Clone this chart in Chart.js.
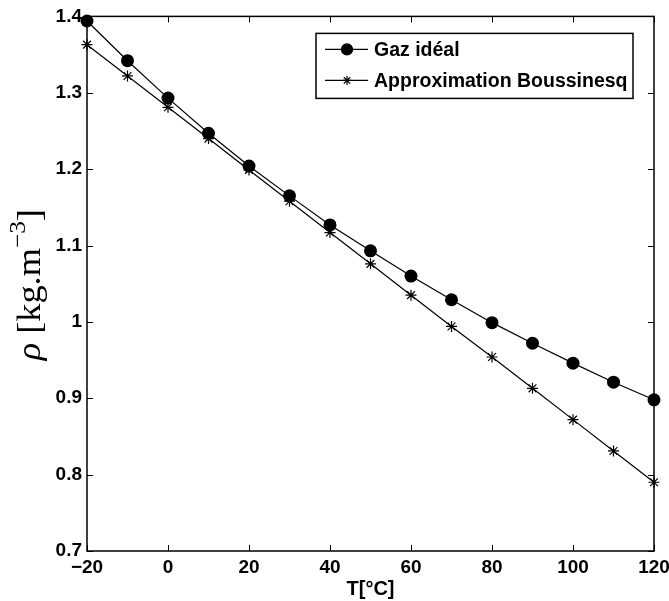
<!DOCTYPE html>
<html>
<head>
<meta charset="utf-8">
<script src="https://cdn.jsdelivr.net/npm/chart.js@4/dist/chart.umd.min.js"></script>
<style>
  html, body { margin: 0; padding: 0; background: #fff; }
  canvas { display: block; }
</style>
</head>
<body>
<canvas id="rhoChart" width="669" height="601"></canvas>
<script>
// temperatures [°C]
const temperatures = [-20, -10, 0, 10, 20, 30, 40, 50, 60, 70, 80, 90, 100, 110, 120];
// masse volumique, gaz idéal
const rhoIdeal = [1.394, 1.342, 1.293, 1.247, 1.204, 1.165, 1.127, 1.093, 1.060, 1.029, 0.999, 0.972, 0.946, 0.921, 0.898];
// masse volumique, approximation de Boussinesq
const rhoBoussinesq = [1.363, 1.322, 1.281, 1.240, 1.199, 1.158, 1.117, 1.076, 1.035, 0.994, 0.954, 0.913, 0.872, 0.831, 0.790];
const seriesLabels = ['Gaz idéal', 'Approximation Boussinesq'];
const xTicks = [-20, 0, 20, 40, 60, 80, 100, 120];
const yTicks = [0.7, 0.8, 0.9, 1.0, 1.1, 1.2, 1.3, 1.4];
const xTitle = 'T[°C]';

const tickFont = { family: '"Liberation Sans", Arial, sans-serif', size: 19, weight: 'bold' };

// cadre, graduations intérieures, légende et titres des axes
const framePlugin = {
    id: 'frame',
    afterDraw(chart) {
        const ctx = chart.ctx;
        const a = chart.chartArea;
        const xs = chart.scales.x, ys = chart.scales.y;
        ctx.save();
        ctx.strokeStyle = '#000';
        ctx.lineWidth = 1.5;
        ctx.strokeRect(a.left, a.top, a.right - a.left, a.bottom - a.top);

        ctx.lineWidth = 1;
        const tl = 6;
        ctx.beginPath();
        xTicks.forEach(v => {
            const px = Math.round(xs.getPixelForValue(v)) + 0.5;
            ctx.moveTo(px, a.bottom); ctx.lineTo(px, a.bottom - tl);
            ctx.moveTo(px, a.top); ctx.lineTo(px, a.top + tl);
        });
        yTicks.forEach(v => {
            const py = Math.round(ys.getPixelForValue(v)) + 0.5;
            ctx.moveTo(a.left, py); ctx.lineTo(a.left + tl, py);
            ctx.moveTo(a.right, py); ctx.lineTo(a.right - tl, py);
        });
        ctx.stroke();

        // légende
        const lw = 317, lh = 65;
        const lx = a.right - 21 - lw, ly = a.top + 17;
        ctx.fillStyle = '#fff';
        ctx.fillRect(lx, ly, lw, lh);
        ctx.lineWidth = 1.5;
        ctx.strokeRect(lx, ly, lw, lh);
        ctx.font = 'bold 19.5px "Liberation Sans", Arial, sans-serif';
        ctx.textBaseline = 'middle';
        ctx.textAlign = 'left';
        chart.data.datasets.forEach((ds, i) => {
            const ry = ly + 16 + i * 31;
            ctx.lineWidth = 1.2;
            ctx.strokeStyle = '#000';
            ctx.beginPath();
            ctx.moveTo(lx + 9, ry); ctx.lineTo(lx + 52, ry);
            ctx.stroke();
            ctx.fillStyle = '#000';
            Chart.helpers.drawPoint(ctx, {
                pointStyle: ds.pointStyle,
                radius: ds.pointStyle === 'circle' ? 5.5 : 4.5,
                borderWidth: 1.2
            }, lx + 31, ry);
            ctx.fillText(ds.label, lx + 58, ry + 1);
        });

        // titre de l'axe x
        ctx.textAlign = 'center';
        ctx.font = 'bold 20px "Liberation Sans", Arial, sans-serif';
        ctx.fillText(xTitle, (a.left + a.right) / 2, 589);

        // titre de l'axe y : rho [kg.m^-3]
        const big = 33, small = 23;
        const parts = [
            { t: 'ρ', f: 'italic ' + big + 'px "Liberation Serif", serif', dy: 0 },
            { t: ' [kg.m', f: big + 'px "Liberation Serif", serif', dy: 0 },
            { t: '−3', f: small + 'px "Liberation Serif", serif', dy: -15 },
            { t: ']', f: big + 'px "Liberation Serif", serif', dy: 0 }
        ];
        let total = 0;
        parts.forEach(p => { ctx.font = p.f; p.w = ctx.measureText(p.t).width; total += p.w; });
        ctx.translate(40, (a.top + a.bottom) / 2 + 1);
        ctx.rotate(-Math.PI / 2);
        ctx.scale(1.1, 1);
        ctx.textAlign = 'left';
        ctx.textBaseline = 'alphabetic';
        let cx = -total / 2;
        parts.forEach(p => {
            ctx.font = p.f;
            ctx.fillText(p.t, cx, p.dy);
            cx += p.w;
        });
        ctx.restore();
    }
};

const ctx = document.getElementById('rhoChart').getContext('2d');
new Chart(ctx, {
    type: 'line',
    data: {
        datasets: [
            {
                label: seriesLabels[0],
                data: temperatures.map((t, i) => ({ x: t, y: rhoIdeal[i] })),
                borderColor: '#000',
                backgroundColor: '#000',
                borderWidth: 1.2,
                pointStyle: 'circle',
                pointRadius: 6.5,
                pointBorderWidth: 0,
                pointBackgroundColor: '#000',
                clip: false
            },
            {
                label: seriesLabels[1],
                data: temperatures.map((t, i) => ({ x: t, y: rhoBoussinesq[i] })),
                borderColor: '#000',
                backgroundColor: '#000',
                borderWidth: 1.2,
                pointStyle: 'star',
                pointRadius: 5.5,
                pointBorderWidth: 1.2,
                pointBorderColor: '#000',
                clip: false
            }
        ]
    },
    options: {
        responsive: false,
        animation: false,
        layout: { padding: { top: 15, right: 15, left: 0, bottom: 0 } },
        plugins: {
            legend: { display: false },
            tooltip: { enabled: false }
        },
        scales: {
            x: {
                type: 'linear',
                min: -20,
                max: 120,
                afterBuildTicks: s => { s.ticks = xTicks.map(v => ({ value: v })); },
                afterFit: s => { s.height = 50; s.paddingLeft = 0; s.paddingRight = 0; },
                grid: { display: false, drawTicks: false },
                border: { display: false },
                ticks: {
                    color: '#000',
                    font: tickFont,
                    padding: 5,
                    maxRotation: 0,
                    callback: v => String(v).replace('-', '\u2212')
                }
            },
            y: {
                min: 0.7,
                max: 1.4,
                afterBuildTicks: s => { s.ticks = yTicks.map(v => ({ value: v })); },
                afterFit: s => { s.width = 87; },
                grid: { display: false, drawTicks: false },
                border: { display: false },
                ticks: {
                    color: '#000',
                    font: tickFont,
                    padding: 5,
                    callback: v => String(+v.toFixed(1))
                }
            }
        }
    },
    plugins: [framePlugin]
});
</script>
</body>
</html>
